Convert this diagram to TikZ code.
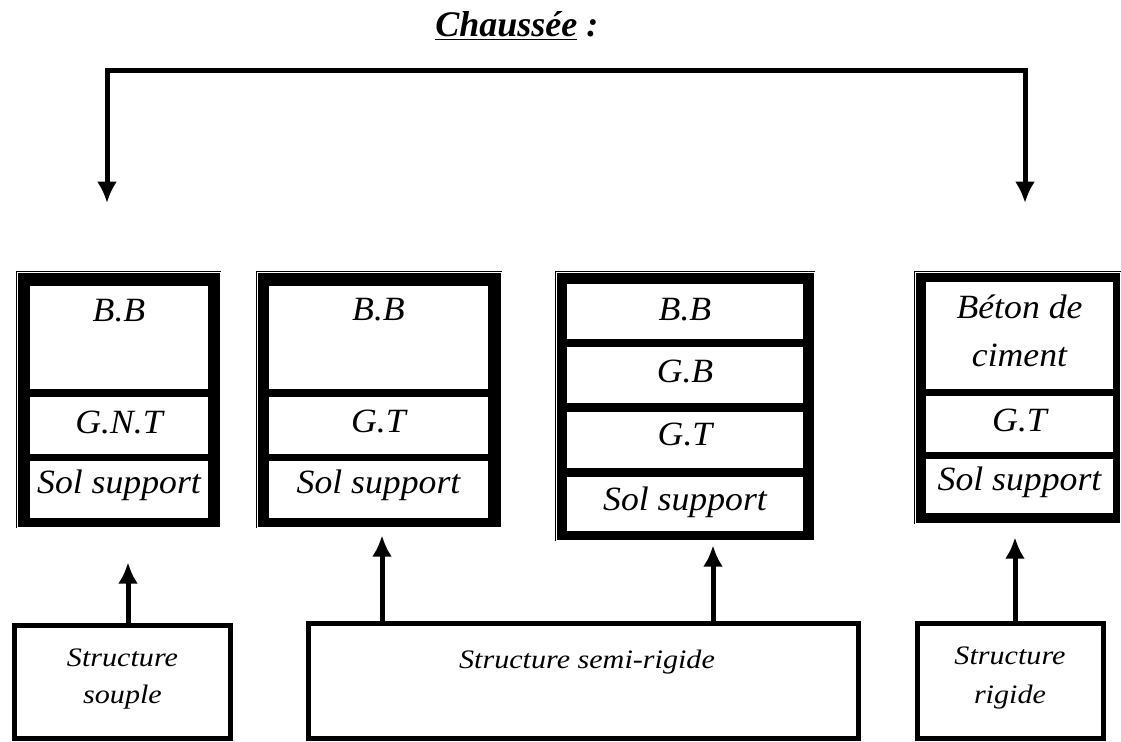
\documentclass[tikz,border=0pt]{standalone}
\usepackage{fontspec}
\setmainfont{Liberation Serif}
\usetikzlibrary{arrows.meta,fit}
\begin{document}
\begin{tikzpicture}[x=0.75pt,y=-0.75pt,
  tabframe/.style={fill=black,draw=black,double=white,double distance=0.6pt,line width=0.5pt,inner sep=0pt},
  cell/.style={fill=white,draw=gray!60!black,double=white,double distance=0.8pt,line width=0.45pt,inner sep=0pt},
  celltxt/.style={anchor=base,inner sep=0pt,font=\fontsize{25.5pt}{30pt}\itshape,xscale=1.05},
  sbox/.style={draw=black,fill=white,line width=3.75pt,inner sep=0pt},
  boxtxt/.style={anchor=base,inner sep=0pt,font=\fontsize{20pt}{24pt}\itshape,xscale=1.13},
  arr/.style={line width=3.75pt,-{Latex[length=16pt,width=15pt]}},
  topline/.style={line width=3.75pt,line join=miter,-{Latex[length=16pt,width=15pt]}}]
\useasboundingbox (0,0) rectangle (1121,742);

% title
\node[anchor=base west,inner sep=0pt,font=\fontsize{27pt}{32pt}\bfseries\itshape] (title) at (435,37) {\underline{Chaussée}\ :};

% top connector
\coordinate (top) at (565,71);
\coordinate (aL) at (107,203);
\coordinate (aR) at (1025,203);
\draw[topline] (top) -| (aL);
\draw[topline] (top) -| (aR);

% table 1
\node[tabframe,fit={(17,272) (220,527)}] (t1) {};
\node[cell,fit={(31,287) (207,388)}] (t1a) {};
\node[cell,fit={(31,398) (207,453)}] (t1b) {};
\node[cell,fit={(31,462) (207,517)}] (t1c) {};
\node[celltxt] (t1at) at (119,321) {B.B};
\node[celltxt] (t1bt) at (119,433) {G.N.T};
\node[celltxt] (t1ct) at (119,493) {Sol support};

% table 2
\node[tabframe,fit={(257,272) (501,527)}] (t2) {};
\node[cell,fit={(270,287) (487,388)}] (t2a) {};
\node[cell,fit={(270,398) (487,453)}] (t2b) {};
\node[cell,fit={(270,462) (487,517)}] (t2c) {};
\node[celltxt] (t2at) at (378.5,320) {B.B};
\node[celltxt] (t2bt) at (378.5,432) {G.T};
\node[celltxt] (t2ct) at (378.5,493) {Sol support};

% table 3
\node[tabframe,fit={(556,272) (814,540)}] (t3) {};
\node[cell,fit={(568,285) (802,338)}] (t3a) {};
\node[cell,fit={(568,348) (802,402)}] (t3b) {};
\node[cell,fit={(568,413) (802,467)}] (t3c) {};
\node[cell,fit={(568,478) (802,530)}] (t3d) {};
\node[celltxt] (t3at) at (685,320) {B.B};
\node[celltxt] (t3bt) at (685,382) {G.B};
\node[celltxt] (t3ct) at (685,445) {G.T};
\node[celltxt] (t3dt) at (685,510) {Sol support};

% table 4
\node[tabframe,fit={(915,272) (1120,523)}] (t4) {};
\node[cell,fit={(927,283) (1112,388)}] (t4a) {};
\node[cell,fit={(927,397) (1112,451)}] (t4b) {};
\node[cell,fit={(927,460) (1112,512)}] (t4c) {};
\node[celltxt] (t4at) at (1019.5,318) {Béton de};
\node[celltxt] (t4at2) at (1019.5,366) {ciment};
\node[celltxt] (t4bt) at (1019.5,431) {G.T};
\node[celltxt] (t4ct) at (1019.5,490) {Sol support};

% bottom boxes
\node[sbox,fit={(14.5,625.5) (230.5,738)}] (b1) {};
\node[sbox,fit={(308,623) (858,738)}] (b2) {};
\node[sbox,fit={(917,623) (1103,738)}] (b3) {};
\node[boxtxt] (b1t1) at (122.5,666) {Structure};
\node[boxtxt] (b1t2) at (122.5,703) {souple};
\node[boxtxt] (b2t) at (587,668) {Structure semi-rigide};
\node[boxtxt] (b3t1) at (1010,664) {Structure};
\node[boxtxt] (b3t2) at (1010,703) {rigide};

% arrows up
\coordinate (x1) at (128,0);
\coordinate (x2) at (382,0);
\coordinate (x3) at (713,0);
\coordinate (x4) at (1015,0);
\draw[arr,shorten >=26.25pt] (b1.north -| x1) -- (t1.south -| x1);
\draw[arr,shorten >=6pt] (b2.north -| x2) -- (t2.south -| x2);
\draw[arr,shorten >=3.75pt] (b2.north -| x3) -- (t3.south -| x3);
\draw[arr,shorten >=10.5pt] (b3.north -| x4) -- (t4.south -| x4);
\end{tikzpicture}
\end{document}
